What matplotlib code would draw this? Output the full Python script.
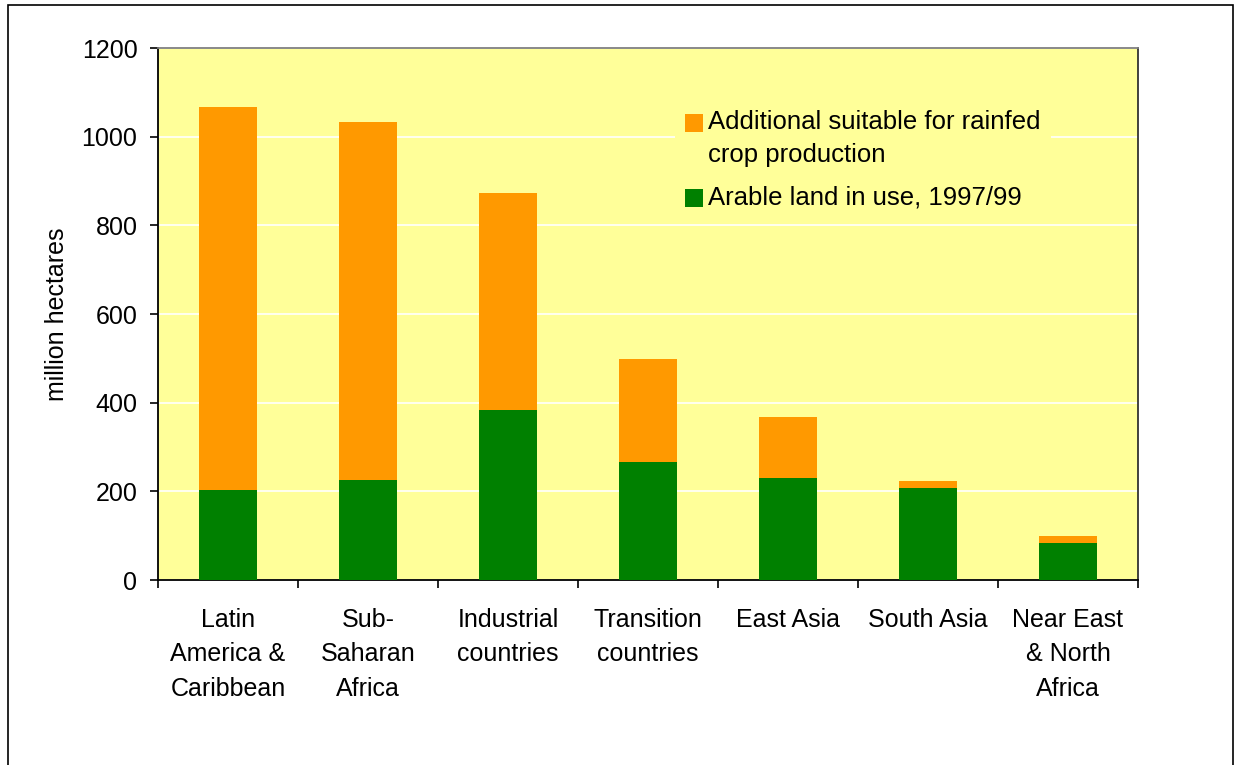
import matplotlib.pyplot as plt
import numpy as np
from matplotlib.patches import Patch, Rectangle
from matplotlib.legend_handler import HandlerPatch

plt.rcParams['font.family'] = ['Liberation Sans', 'DejaVu Sans']

# regions and land area (million hectares)
regions = ["Latin\nAmerica &\nCaribbean", "Sub-\nSaharan\nAfrica", "Industrial\ncountries",
           "Transition\ncountries", "East Asia", "South Asia", "Near East\n& North\nAfrica"]
arable_in_use = [203, 226, 384, 266, 230, 208, 84]
additional_suitable = [863, 807, 489, 233, 138, 15, 15]

series_names = ["Additional suitable for rainfed\ncrop production", "Arable land in use, 1997/99"]

yellow = "#FFFF99"
orange = "#FF9900"
green = "#008000"
fs = 18
leg_fs = 18.5


def top_square(legend, orig_handle, xdescent, ydescent, width, height, fontsize):
    # small square sitting level with the first line of the label
    side = 0.7 * fontsize
    return Rectangle((-xdescent, -ydescent + height - side - 0.14 * fontsize), side, side)


fig = plt.figure(figsize=(12.35, 7.65), dpi=100)
ax = fig.add_axes([158 / 1235, 1 - 580 / 765, 980 / 1235, 532 / 765])
ax.set_facecolor(yellow)

x = np.arange(len(regions))
ax.bar(x, arable_in_use, width=0.42, color=green, zorder=3)
ax.bar(x, additional_suitable, width=0.42, bottom=arable_in_use, color=orange, zorder=3)

ax.set_xlim(-0.5, len(regions) - 0.5)
ax.set_ylim(0, 1200)
ax.set_yticks(np.arange(0, 1201, 200))
ax.yaxis.grid(True, color="white", linewidth=1.2, zorder=0)
ax.set_axisbelow(True)

# ticks on category boundaries, labels centred between them
ax.set_xticks(np.arange(-0.5, len(regions), 1))
ax.set_xticklabels([])
ax.set_xticks(x, minor=True)
ax.set_xticklabels(regions, minor=True, fontsize=fs, linespacing=1.56)
ax.tick_params(axis="x", which="minor", length=0, pad=20)
ax.tick_params(axis="x", which="major", length=5.8, width=1.2, direction="out")
ax.tick_params(axis="y", length=5.8, width=1.2, direction="out", labelsize=fs, pad=9)

ax.spines["left"].set_color("black")
ax.spines["bottom"].set_color("black")
ax.spines["top"].set_color("#808080")
ax.spines["right"].set_color("#333333")
for side in ["left", "bottom", "top", "right"]:
    ax.spines[side].set_linewidth(1.3)

ax.set_ylabel("million hectares", fontsize=fs)
ax.yaxis.set_label_coords(-0.091, 0.5)

handles = [Patch(facecolor=orange), Patch(facecolor=green)]
leg = ax.legend(handles, series_names, loc="upper left", bbox_to_anchor=(0.5272, 0.9028),
                fontsize=leg_fs, frameon=True, facecolor=yellow, edgecolor="none", framealpha=1,
                handlelength=0.7, handleheight=0.7, handletextpad=0.2, labelspacing=0.74,
                borderaxespad=0, borderpad=0.4, fancybox=False,
                handler_map={Patch: HandlerPatch(patch_func=top_square)})
leg.set_zorder(5)
for t in leg.get_texts():
    t.set_linespacing(1.45)
for col in leg._legend_handle_box.get_children():
    for row in col.get_children():
        row.align = "top"

# outer frame around the whole chart
fig.add_artist(Rectangle((8 / 1235, -0.1), 1225 / 1235, (760 / 765) + 0.1,
                         transform=fig.transFigure, fill=False, edgecolor="black",
                         linewidth=1.2, clip_on=False))

fig.savefig("out.png", dpi=100)
